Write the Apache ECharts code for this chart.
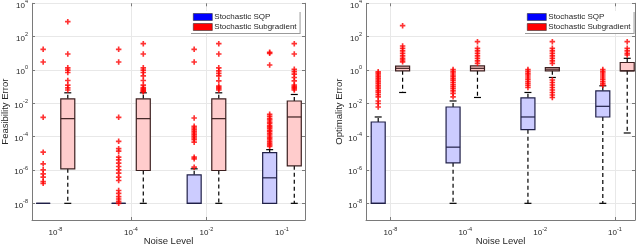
<!DOCTYPE html>
<html><head><meta charset="utf-8">
<script src="https://cdn.jsdelivr.net/npm/echarts@6/dist/echarts.min.js"></script>
<style>html,body{margin:0;padding:0;background:#fff}#c{width:640px;height:246px}</style>
</head><body><div id="c"></div>
<script>
// ---------- data (all values as log10 of the error) ----------
const noiseExponents = ['-8', '-4', '-2', '-1'];
const yTickExponents = [-8, -6, -4, -2, 0, 2, 4];
const seriesNames = ['Stochastic SQP', 'Stochastic Subgradient'];

// box stats: [lowerWhisker, Q1, median, Q3, upperWhisker]
const feasSQPBoxes = [
  [-8, -8, -8, -8, -8],
  [-8, -8, -8, -8, -8],
  [-8, -8, -8, -6.29, -5.93],
  [-8, -8, -6.47, -4.96, -4.78]
];
const feasSubBoxes = [
  [-8, -5.93, -2.92, -1.73, -1.37],
  [-8, -6.03, -2.92, -1.73, -1.37],
  [-8, -6.03, -2.92, -1.73, -1.37],
  [-8, -5.75, -2.82, -1.86, -1.47]
];
const optSQPBoxes = [
  [-8, -8, -8, -3.12, -2.82],
  [-8, -5.57, -4.63, -2.22, -1.86],
  [-8, -3.58, -2.82, -1.67, -1.35],
  [-8, -2.82, -2.18, -1.25, -0.95]
];
const optSubBoxes = [
  [-1.35, -0.05, 0.1, 0.23, 0.23],
  [-1.65, -0.05, 0.1, 0.25, 0.25],
  [-0.45, -0.05, 0.05, 0.15, 0.15],
  [-3.78, -0.05, -0.05, 0.45, 0.7]
];

// outliers per noise level
const feasSQPOutliers = [
  [1.24, 0.48, -2.84, -4.93, -5.63, -5.99, -6.23, -6.43, -6.69, -6.8],
  [1.24, 0.48, -2.84, -4.28, -4.72, -4.87, -5.23, -5.39, -5.59, -5.79, -5.99, -6.19, -6.43, -6.63, -7.23, -7.4, -7.6, -7.74, -7.88, -8],
  [1.24, 0.48, -2.88, -3.38, -3.48, -3.58, -3.68, -3.78, -3.88, -3.98, -4.08, -4.18, -4.33, -5.23, -5.33, -5.83],
  [1.06, 1.0, 0.3, -2.66, -2.78, -2.92, -3.0, -3.12, -3.2, -3.33, -3.41, -3.5, -3.62, -3.7, -3.81, -3.9, -4.02, -4.1, -4.2, -4.31, -4.42, -4.5, -4.58]
];
const feasSubOutliers = [
  [2.9, 0.96, 0.13, -0.01, -0.15, -0.63, -0.91, -1.07, -1.2],
  [1.58, 0.96, 0.13, -0.01, -0.15, -0.35, -0.63, -0.91, -1.05, -1.12, -1.18, -1.25, -1.3],
  [1.58, 0.96, 0.13, -0.05, -0.2, -0.35, -0.65, -0.97, -1.05, -1.12, -1.2],
  [1.58, 0.96, 0.04, -0.1, -0.25, -0.45, -0.65, -0.9, -0.98, -1.05, -1.12, -1.2]
];
const optSQPOutliers = [
  [-0.11, -0.2, -0.3, -0.4, -0.5, -0.6, -0.7, -0.8, -0.92, -1.02, -1.12, -1.25, -1.35, -1.48, -1.61, -1.86, -2.01, -2.22],
  [0.03, -0.08, -0.18, -0.3, -0.4, -0.52, -0.62, -0.75, -0.88, -1.0, -1.12, -1.25, -1.4, -1.61],
  [0.03, -0.08, -0.2, -0.3, -0.42, -0.55, -0.68, -0.8, -0.92, -1.05],
  [0.03, -0.08, -0.18, -0.3, -0.42, -0.55, -0.68, -0.8, -0.91]
];
const optSubOutliers = [
  [2.66, 1.44, 1.3, 1.15, 1.0, 0.85, 0.7, 0.6, 0.49],
  [1.7, 1.3, 1.15, 1.0, 0.85, 0.7, 0.55, 0.4],
  [1.7, 1.3, 1.15, 1.0, 0.85, 0.7, 0.55, 0.4, -0.6, -0.75, -0.9, -1.05, -1.2, -1.35, -1.5, -1.65],
  [1.7, 1.3, 1.15, 1.0, 0.9]
];

// ---------- styling / layout ----------
const FONT = 'Liberation Sans, Arial, Helvetica, sans-serif';
const OFFSET = 0.163;          // box offset from category center (x units)
const AXIS_COLOR = '#7a7a7a';
const TEXT_COLOR = '#262626';
const GRID_COLOR = '#e8e8e8';
const PLUS = 'path://M3.5,0h3v3.5h3.5v3h-3.5v3.5h-3v-3.5h-3.5v-3h3.5z';

function supLabel(base, exp) { return '{b|' + base + '}{s|' + exp + '}'; }
const richLabel = {
  b: { fontSize: 8, fontFamily: FONT, color: TEXT_COLOR, padding: [4, 0, 0, 0] },
  s: { fontSize: 5.5, fontFamily: FONT, color: TEXT_COLOR, padding: [0, 0, 4, 0] }
};

function renderBox(fill, edge) {
  return function (params, api) {
    const x = api.value(0);
    const v = [1, 2, 3, 4, 5].map(k => api.value(k));
    const p = v.map(y => api.coord([x, y]));
    const cx = p[0][0];
    const hw = 7, cw = 3.5;
    const ch = [];
    const dash = { stroke: '#000', lineWidth: 1.2, lineDash: [4, 3] };
    const solid = { stroke: '#000', lineWidth: 1.2 };
    if (v[0] < v[1]) {
      ch.push({ type: 'line', shape: { x1: cx, y1: p[1][1], x2: cx, y2: p[0][1] }, style: dash });
      ch.push({ type: 'line', shape: { x1: cx - cw, y1: p[0][1], x2: cx + cw, y2: p[0][1] }, style: solid });
    }
    if (v[4] > v[3]) {
      ch.push({ type: 'line', shape: { x1: cx, y1: p[3][1], x2: cx, y2: p[4][1] }, style: dash });
      ch.push({ type: 'line', shape: { x1: cx - cw, y1: p[4][1], x2: cx + cw, y2: p[4][1] }, style: solid });
    }
    ch.push({ type: 'rect', shape: { x: cx - hw, y: p[3][1], width: 2 * hw, height: p[1][1] - p[3][1] },
      style: { fill: fill, stroke: edge, lineWidth: 1.2 } });
    ch.push({ type: 'line', shape: { x1: cx - hw, y1: p[2][1], x2: cx + hw, y2: p[2][1] },
      style: { stroke: edge, lineWidth: 1.2 } });
    return { type: 'group', children: ch };
  };
}

function boxData(boxes, offset) {
  return boxes.map((b, i) => [i + 1 + offset].concat(b));
}
function outlierData(outs, offset) {
  const d = [];
  outs.forEach((arr, i) => arr.forEach(y => d.push([i + 1 + offset, y])));
  return d;
}

function makeXAxes(gi, min, max, tickVals) {
  return [{
    gridIndex: gi, type: 'value', min: min, max: max, position: 'bottom',
    name: 'Noise Level', nameLocation: 'middle', nameGap: 16, nameMoveOverlap: false,
    nameTextStyle: { fontSize: 9.5, fontFamily: FONT, color: TEXT_COLOR },
    axisLine: { onZero: false, lineStyle: { color: AXIS_COLOR, width: 1 } },
    axisTick: { show: true, inside: true, length: 3, customValues: tickVals, lineStyle: { color: AXIS_COLOR } },
    axisLabel: { customValues: [1, 2, 3, 4], margin: 5, formatter: v => supLabel('10', noiseExponents[Math.round(v) - 1]), rich: richLabel },
    splitLine: { show: true, lineStyle: { color: GRID_COLOR, width: 1 } }
  }, {
    gridIndex: gi, type: 'value', min: min, max: max, position: 'top',
    axisLine: { show: false, onZero: false },
    axisTick: { show: true, inside: true, length: 3, customValues: tickVals, lineStyle: { color: AXIS_COLOR } },
    axisLabel: { show: false }, splitLine: { show: false }
  }];
}
function makeYAxes(gi, name) {
  return [{
    gridIndex: gi, type: 'value', min: -9, max: 4, position: 'left',
    name: name, nameLocation: 'middle', nameGap: 22, nameRotate: 90, nameMoveOverlap: false,
    nameTextStyle: { fontSize: 9.5, fontFamily: FONT, color: TEXT_COLOR },
    axisLine: { show: true, onZero: false, lineStyle: { color: AXIS_COLOR, width: 1 } },
    axisTick: { show: true, inside: true, length: 3, customValues: yTickExponents, lineStyle: { color: AXIS_COLOR } },
    axisLabel: { customValues: yTickExponents, margin: 4, formatter: v => supLabel('10', String(v)), rich: richLabel },
    splitLine: { show: true, lineStyle: { color: GRID_COLOR, width: 1 } }
  }, {
    gridIndex: gi, type: 'value', min: -9, max: 4, position: 'right',
    axisLine: { show: true, onZero: false, lineStyle: { color: AXIS_COLOR, width: 1 } },
    axisTick: { show: true, inside: true, length: 3, customValues: yTickExponents, lineStyle: { color: AXIS_COLOR } },
    axisLabel: { show: false }, splitLine: { show: false }
  }];
}

function makeLegend(left) {
  return {
    left: left, top: 11, orient: 'vertical', icon: 'rect',
    itemWidth: 19, itemHeight: 7, itemGap: 2, padding: [2, 3, 2, 3],
    backgroundColor: '#fff', borderWidth: 0,
    shadowColor: '#9a9a9a', shadowOffsetX: 1, shadowOffsetY: 1, shadowBlur: 0,
    textStyle: { fontSize: 8, fontFamily: FONT, color: TEXT_COLOR, padding: [0, 0, 0, -3] },
    data: [
      { name: seriesNames[0], itemStyle: { color: '#0000ff', borderColor: '#333', borderWidth: 0.6 } },
      { name: seriesNames[1], itemStyle: { color: '#ff0000', borderColor: '#333', borderWidth: 0.6 } }
    ]
  };
}

const panels = [
  { sqpBoxes: feasSQPBoxes, subBoxes: feasSubBoxes, sqpOut: feasSQPOutliers, subOut: feasSubOutliers },
  { sqpBoxes: optSQPBoxes, subBoxes: optSubBoxes, sqpOut: optSQPOutliers, subOut: optSubOutliers }
];

const series = [];
panels.forEach((pn, gi) => {
  const xi = gi * 2, yi = gi * 2;
  series.push({ type: 'custom', name: seriesNames[0], xAxisIndex: xi, yAxisIndex: yi,
    renderItem: renderBox('#ccccff', '#202048'), data: boxData(pn.sqpBoxes, -OFFSET), encode: { x: 0, y: [1, 2, 3, 4, 5] }, z: 2 });
  series.push({ type: 'custom', name: seriesNames[1], xAxisIndex: xi, yAxisIndex: yi,
    renderItem: renderBox('#ffcccc', '#3c2020'), data: boxData(pn.subBoxes, OFFSET), encode: { x: 0, y: [1, 2, 3, 4, 5] }, z: 2 });
  series.push({ type: 'scatter', name: seriesNames[0] + ' outliers', xAxisIndex: xi, yAxisIndex: yi,
    symbol: PLUS, symbolSize: 5.5, itemStyle: { color: '#ff0000' }, data: outlierData(pn.sqpOut, -OFFSET), z: 3, silent: true });
  series.push({ type: 'scatter', name: seriesNames[1] + ' outliers', xAxisIndex: xi, yAxisIndex: yi,
    symbol: PLUS, symbolSize: 5.5, itemStyle: { color: '#ff0000' }, data: outlierData(pn.subOut, OFFSET), z: 3, silent: true });
});

const chart = echarts.init(document.getElementById('c'), null, { renderer: 'canvas' });
chart.setOption({
  animation: false,
  backgroundColor: '#fff',
  grid: [
    { left: 32, top: 3.3, width: 273, height: 216.7, outerBoundsMode: 'none', containLabel: false },
    { left: 366, top: 3.3, width: 269, height: 216.7, outerBoundsMode: 'none', containLabel: false }
  ],
  xAxis: makeXAxes(0, 0.689, 4.305, [2, 3]).concat(makeXAxes(1, 0.674, 4.267, [1, 4])),
  yAxis: makeYAxes(0, 'Feasibility Error').concat(makeYAxes(1, 'Optimality Error')),
  legend: [makeLegend(190), makeLegend(524)],
  series: series
});
</script></body></html>
